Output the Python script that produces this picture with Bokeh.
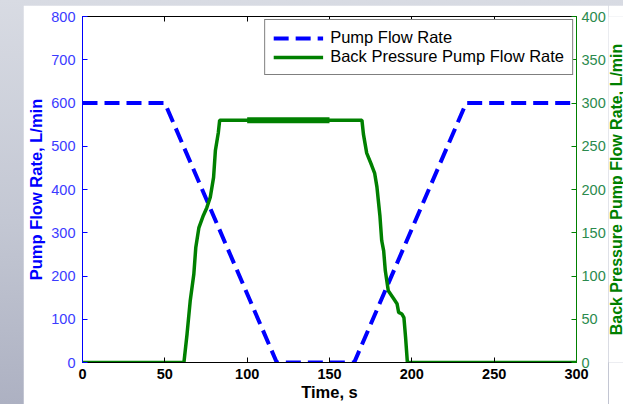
import math
from bokeh.plotting import figure
from bokeh.layouts import row
from bokeh.models import Range1d, LinearAxis, FixedTicker, Legend, LegendItem
from bokeh.core.properties import value
from bokeh.embed import file_html
from bokeh.resources import INLINE

# ---- data ----
time_ticks = [0, 50, 100, 150, 200, 250, 300]
pump_ticks = [0, 100, 200, 300, 400, 500, 600, 700, 800]
bp_ticks = [0, 50, 100, 150, 200, 250, 300, 350, 400]

pump_t = [0, 50, 118, 165, 233, 300]
pump_q = [600, 600, 0, 0, 600, 600]

bp_t = [0, 61.6, 63.5, 65.4, 67.6, 68.8, 70.7, 73.4, 75.5, 77.6, 79.6, 80.7, 82.5, 83.3,
        169.7, 170.6, 172.6, 175.6, 177.4, 178.8, 180.6, 181.7, 182.9, 183.9, 185.7,
        188.9, 191.0, 192.0, 194.0, 195.2, 196.2, 197.3, 300]
bp_q = [0, 0, 33, 71, 102, 133, 156, 170, 179, 191, 214, 245, 266, 280,
        280, 264, 242, 228, 219, 203, 170, 141, 129, 106, 83,
        74, 68, 58, 56, 52, 29, 0, 0]

bp_dense_t = [100, 150]
bp_dense_q = [280, 280]

x_title = "Time, s"
left_title = "Pump Flow Rate, L/min"
right_title = "Back Pressure Pump Flow Rate, L/min"
series_names = ["Pump Flow Rate", "Back Pressure Pump Flow Rate"]

FONT = "Liberation Sans"
BLUE = "#0000ff"
GREEN = "#008000"

p = figure(width=585, height=399, x_range=Range1d(0, 300), y_range=Range1d(0, 800),
           output_backend="svg", toolbar_location=None,
           min_border_left=59, min_border_right=32, min_border_top=11, min_border_bottom=42,
           background_fill_color="white", border_fill_color="white",
           outline_line_color=None)
p.extra_y_ranges = {"bp": Range1d(0, 400)}
p.xgrid.visible = False
p.ygrid.visible = False

# bottom axis
xa = p.xaxis[0]
xa.ticker = FixedTicker(ticks=time_ticks)
xa.axis_label = x_title
xa.axis_label_text_font = FONT
xa.axis_label_text_font_size = "16.5px"
xa.axis_label_text_font_style = "bold"
xa.axis_label_text_color = "black"
xa.axis_label_standoff = 1
xa.major_label_text_font = FONT
xa.major_label_text_font_size = "14.5px"
xa.major_label_text_font_style = "bold"
xa.major_label_text_color = "black"
xa.major_label_standoff = 6
xa.major_tick_in = 5
xa.major_tick_out = 0
xa.minor_tick_line_color = None
xa.axis_line_color = "black"
xa.major_tick_line_color = "black"

# left axis
ya = p.yaxis[0]
ya.ticker = FixedTicker(ticks=pump_ticks)
ya.axis_label = left_title
ya.axis_label_text_font = FONT
ya.axis_label_text_font_size = "16.5px"
ya.axis_label_text_font_style = "bold"
ya.axis_label_text_color = BLUE
ya.axis_label_standoff = 3
ya.major_label_text_font = FONT
ya.major_label_text_font_size = "14.5px"
ya.major_label_text_color = "#3b3bff"
ya.major_label_standoff = 7
ya.major_tick_in = 5
ya.major_tick_out = 0
ya.minor_tick_line_color = None
ya.axis_line_color = BLUE
ya.major_tick_line_color = BLUE

# right axis (title drawn in the narrow strip figure)
ra = LinearAxis(y_range_name="bp", ticker=FixedTicker(ticks=bp_ticks))
ra.major_label_text_font = FONT
ra.major_label_text_font_size = "14.5px"
ra.major_label_text_color = "#2b8a4e"
ra.major_label_standoff = 5
ra.major_tick_in = 5
ra.major_tick_out = 0
ra.minor_tick_line_color = None
ra.axis_line_color = GREEN
ra.major_tick_line_color = GREEN
p.add_layout(ra, "right")

# top axis (frame line with ticks only, no labels drawn)
ta = LinearAxis(ticker=FixedTicker(ticks=time_ticks))
ta.major_label_text_font_size = "1px"
ta.major_label_text_color = None
ta.major_label_standoff = 0
ta.major_tick_in = 5
ta.major_tick_out = 0
ta.minor_tick_line_color = None
ta.axis_line_color = "black"
ta.major_tick_line_color = "black"
p.add_layout(ta, "above")

# series
r1 = p.line(pump_t, pump_q, line_color=BLUE, line_width=4, line_dash="15 7")
r2 = p.line(bp_t, bp_q, line_color=GREEN, line_width=3.5, y_range_name="bp")
p.line(bp_dense_t, bp_dense_q, line_color=GREEN, line_width=6, y_range_name="bp")

legend = Legend(items=[LegendItem(label=series_names[0], renderers=[r1]),
                       LegendItem(label=series_names[1], renderers=[r2])],
                location="top_right", margin=3, padding=8, spacing=0,
                glyph_width=50, glyph_height=18, label_standoff=7,
                label_text_font=FONT, label_text_font_size="16.5px",
                label_text_color="black", border_line_color="black",
                border_line_width=1, background_fill_color="white", background_fill_alpha=1)
p.add_layout(legend)

# narrow strip holding the right-hand axis title (reads bottom to top)
p2 = figure(width=15, height=399, x_range=Range1d(0, 1), y_range=Range1d(0, 1),
            output_backend="svg", toolbar_location=None,
            x_axis_location=None, y_axis_location=None,
            min_border_left=0, min_border_right=0, min_border_top=11, min_border_bottom=42,
            background_fill_color="white", border_fill_color="white",
            outline_line_color=None)
p2.xgrid.visible = False
p2.ygrid.visible = False
p2.text(x=[0.5], y=[0.5], text=[right_title], angle=math.pi / 2,
        text_align="center", text_baseline="middle",
        text_font=value(FONT), text_font_size="16px", text_font_style="bold",
        text_color=GREEN)

layout = row(p, p2, margin=(5, 0, 0, 23), spacing=0)

html = file_html(layout, INLINE, title="Pump flow rates")
css = ("<style>html,body{background:linear-gradient(180deg,#d8dbe3 0%,#c3c7d3 55%,#adb1c2 100%);"
       "background-attachment:fixed;overflow:hidden;}</style>")
html = html.replace("</head>", css + "</head>", 1)
open("out.html", "w").write(html)
